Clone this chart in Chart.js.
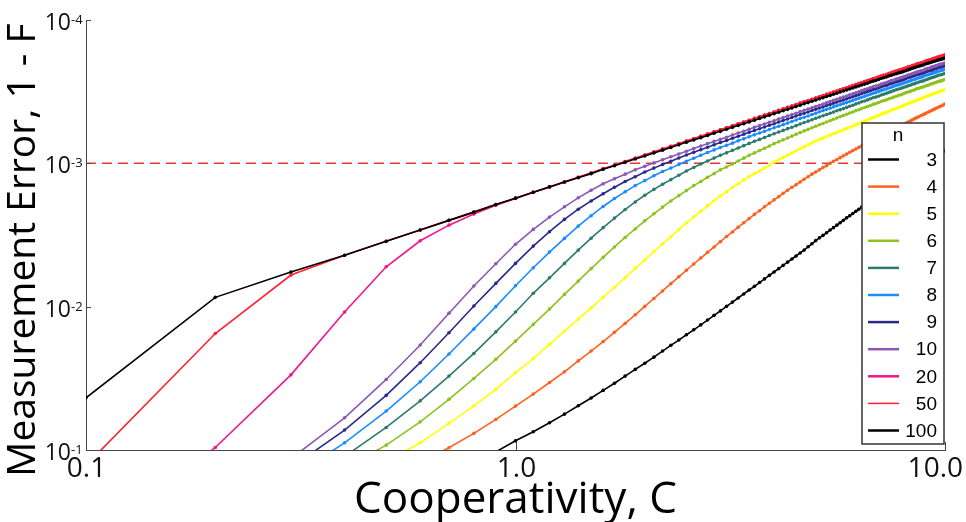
<!DOCTYPE html>
<html>
<head>
<meta charset="utf-8">
<title>Measurement error vs cooperativity</title>
<script src="https://cdn.jsdelivr.net/npm/chart.js@4.4.1/dist/chart.umd.min.js"></script>
<style>
  html, body { margin: 0; padding: 0; background: #fff; }
  #wrap { width: 966px; height: 522px; }
</style>
</head>
<body>
<div id="wrap"><canvas id="errChart" width="966" height="522"></canvas></div>
<script>
// cooperativity values (x), one point every 0.1
const coopC = [
  0.1, 0.2, 0.3, 0.4, 0.5, 0.6, 0.7, 0.8, 0.9, 1.0,
  1.1, 1.2, 1.3, 1.4, 1.5, 1.6, 1.7, 1.8, 1.9, 2.0,
  2.1, 2.2, 2.3, 2.4, 2.5, 2.6, 2.7, 2.8, 2.9, 3.0,
  3.1, 3.2, 3.3, 3.4, 3.5, 3.6, 3.7, 3.8, 3.9, 4.0,
  4.1, 4.2, 4.3, 4.4, 4.5, 4.6, 4.7, 4.8, 4.9, 5.0,
  5.1, 5.2, 5.3, 5.4, 5.5, 5.6, 5.7, 5.8, 5.9, 6.0,
  6.1, 6.2, 6.3, 6.4, 6.5, 6.6, 6.7, 6.8, 6.9, 7.0,
  7.1, 7.2, 7.3, 7.4, 7.5, 7.6, 7.7, 7.8, 7.9, 8.0,
  8.1, 8.2, 8.3, 8.4, 8.5, 8.6, 8.7, 8.8, 8.9, 9.0,
  9.1, 9.2, 9.3, 9.4, 9.5, 9.6, 9.7, 9.8, 9.9, 10.0
];

// measurement error 1 - F for each n (null = off the plotted range)
const errN3 = [
  null, null, null, null, null, null, null, null, 0.103, 0.0863,
  0.0746, 0.0646, 0.0562, 0.0491, 0.0434, 0.0384, 0.0342, 0.0305, 0.0274, 0.0248,
  0.0225, 0.0204, 0.0186, 0.0171, 0.0157, 0.0145, 0.0134, 0.0124, 0.0115, 0.0107,
  9.95e-3, 9.29e-3, 8.70e-3, 8.15e-3, 7.65e-3, 7.21e-3, 6.79e-3, 6.40e-3, 6.05e-3, 5.73e-3,
  5.43e-3, 5.15e-3, 4.89e-3, 4.65e-3, 4.43e-3, 4.22e-3, 4.03e-3, 3.82e-3, 3.64e-3, 3.46e-3,
  3.31e-3, 3.18e-3, 3.05e-3, 2.92e-3, 2.81e-3, 2.70e-3, 2.60e-3, 2.50e-3, 2.40e-3, 2.32e-3,
  2.24e-3, 2.16e-3, 2.09e-3, 2.02e-3, 1.95e-3, 1.89e-3, 1.84e-3, 1.78e-3, 1.73e-3, 1.67e-3,
  1.63e-3, 1.58e-3, 1.54e-3, 1.49e-3, 1.45e-3, 1.41e-3, 1.38e-3, 1.34e-3, 1.30e-3, 1.27e-3,
  1.24e-3, 1.21e-3, 1.18e-3, 1.15e-3, 1.12e-3, 1.10e-3, 1.07e-3, 1.05e-3, 1.02e-3, 1.00e-3,
  9.80e-4, 9.59e-4, 9.39e-4, 9.19e-4, 9.00e-4, 8.82e-4, 8.64e-4, 8.47e-4, 8.30e-4, 8.13e-4
];
const errN4 = [
  null, null, null, null, null, 0.122, 0.0965, 0.0766, 0.0612, 0.0494,
  0.0407, 0.0338, 0.0285, 0.0239, 0.0204, 0.0175, 0.0151, 0.0131, 0.0114, 9.95e-3,
  8.77e-3, 7.77e-3, 6.91e-3, 6.19e-3, 5.57e-3, 5.04e-3, 4.58e-3, 4.18e-3, 3.83e-3, 3.52e-3,
  3.24e-3, 3.01e-3, 2.79e-3, 2.60e-3, 2.43e-3, 2.27e-3, 2.14e-3, 2.01e-3, 1.90e-3, 1.80e-3,
  1.71e-3, 1.62e-3, 1.54e-3, 1.47e-3, 1.41e-3, 1.35e-3, 1.29e-3, 1.24e-3, 1.19e-3, 1.15e-3,
  1.11e-3, 1.07e-3, 1.04e-3, 1.00e-3, 9.69e-4, 9.41e-4, 9.13e-4, 8.87e-4, 8.62e-4, 8.37e-4,
  8.15e-4, 7.95e-4, 7.74e-4, 7.55e-4, 7.36e-4, 7.19e-4, 7.02e-4, 6.86e-4, 6.70e-4, 6.54e-4,
  6.40e-4, 6.27e-4, 6.14e-4, 6.01e-4, 5.89e-4, 5.77e-4, 5.66e-4, 5.55e-4, 5.45e-4, 5.34e-4,
  5.25e-4, 5.15e-4, 5.06e-4, 4.97e-4, 4.88e-4, 4.80e-4, 4.72e-4, 4.64e-4, 4.57e-4, 4.50e-4,
  4.42e-4, 4.35e-4, 4.28e-4, 4.22e-4, 4.15e-4, 4.09e-4, 4.03e-4, 3.98e-4, 3.92e-4, 3.86e-4
];
const errN5 = [
  null, null, null, null, 0.121, 0.0891, 0.0652, 0.0492, 0.0378, 0.0289,
  0.0230, 0.0183, 0.0148, 0.0122, 0.0102, 8.61e-3, 7.32e-3, 6.28e-3, 5.42e-3, 4.72e-3,
  4.14e-3, 3.65e-3, 3.25e-3, 2.90e-3, 2.61e-3, 2.37e-3, 2.16e-3, 1.98e-3, 1.82e-3, 1.69e-3,
  1.58e-3, 1.47e-3, 1.39e-3, 1.31e-3, 1.24e-3, 1.18e-3, 1.13e-3, 1.08e-3, 1.03e-3, 9.80e-4,
  9.44e-4, 9.10e-4, 8.77e-4, 8.46e-4, 8.17e-4, 7.90e-4, 7.65e-4, 7.43e-4, 7.20e-4, 6.98e-4,
  6.82e-4, 6.67e-4, 6.51e-4, 6.36e-4, 6.22e-4, 6.09e-4, 5.96e-4, 5.84e-4, 5.72e-4, 5.60e-4,
  5.49e-4, 5.37e-4, 5.28e-4, 5.17e-4, 5.07e-4, 4.98e-4, 4.89e-4, 4.80e-4, 4.72e-4, 4.64e-4,
  4.55e-4, 4.48e-4, 4.42e-4, 4.33e-4, 4.26e-4, 4.20e-4, 4.13e-4, 4.07e-4, 4.02e-4, 3.96e-4,
  3.89e-4, 3.83e-4, 3.79e-4, 3.73e-4, 3.68e-4, 3.62e-4, 3.58e-4, 3.54e-4, 3.49e-4, 3.43e-4,
  3.39e-4, 3.35e-4, 3.31e-4, 3.27e-4, 3.23e-4, 3.19e-4, 3.15e-4, 3.13e-4, 3.09e-4, 3.05e-4
];
const errN6 = [
  null, null, null, 0.134, 0.0924, 0.0636, 0.0443, 0.0317, 0.0233, 0.0174,
  0.0133, 0.0104, 8.21e-3, 6.63e-3, 5.43e-3, 4.53e-3, 3.83e-3, 3.29e-3, 2.87e-3, 2.52e-3,
  2.25e-3, 2.02e-3, 1.83e-3, 1.68e-3, 1.55e-3, 1.43e-3, 1.34e-3, 1.25e-3, 1.18e-3, 1.11e-3,
  1.06e-3, 1.01e-3, 9.63e-4, 9.20e-4, 8.79e-4, 8.46e-4, 8.14e-4, 7.85e-4, 7.57e-4, 7.29e-4,
  7.07e-4, 6.86e-4, 6.65e-4, 6.46e-4, 6.27e-4, 6.09e-4, 5.94e-4, 5.80e-4, 5.64e-4, 5.51e-4,
  5.38e-4, 5.27e-4, 5.15e-4, 5.04e-4, 4.93e-4, 4.83e-4, 4.73e-4, 4.64e-4, 4.55e-4, 4.46e-4,
  4.38e-4, 4.30e-4, 4.23e-4, 4.15e-4, 4.08e-4, 4.01e-4, 3.95e-4, 3.88e-4, 3.83e-4, 3.77e-4,
  3.70e-4, 3.65e-4, 3.61e-4, 3.54e-4, 3.50e-4, 3.45e-4, 3.40e-4, 3.35e-4, 3.32e-4, 3.27e-4,
  3.22e-4, 3.18e-4, 3.15e-4, 3.10e-4, 3.07e-4, 3.02e-4, 2.99e-4, 2.96e-4, 2.93e-4, 2.89e-4,
  2.86e-4, 2.83e-4, 2.79e-4, 2.76e-4, 2.73e-4, 2.70e-4, 2.67e-4, 2.66e-4, 2.62e-4, 2.60e-4
];
const errN7 = [
  null, null, null, 0.111, 0.0696, 0.0454, 0.0305, 0.0212, 0.0150, 0.0109,
  8.07e-3, 6.29e-3, 4.99e-3, 4.03e-3, 3.33e-3, 2.81e-3, 2.41e-3, 2.10e-3, 1.86e-3, 1.67e-3,
  1.52e-3, 1.40e-3, 1.30e-3, 1.21e-3, 1.13e-3, 1.07e-3, 1.01e-3, 9.64e-4, 9.19e-4, 8.79e-4,
  8.45e-4, 8.12e-4, 7.81e-4, 7.53e-4, 7.26e-4, 7.02e-4, 6.81e-4, 6.60e-4, 6.40e-4, 6.21e-4,
  6.05e-4, 5.89e-4, 5.73e-4, 5.60e-4, 5.46e-4, 5.32e-4, 5.19e-4, 5.08e-4, 4.96e-4, 4.85e-4,
  4.75e-4, 4.66e-4, 4.56e-4, 4.47e-4, 4.39e-4, 4.30e-4, 4.22e-4, 4.15e-4, 4.07e-4, 4.00e-4,
  3.93e-4, 3.85e-4, 3.79e-4, 3.72e-4, 3.67e-4, 3.61e-4, 3.55e-4, 3.49e-4, 3.45e-4, 3.40e-4,
  3.34e-4, 3.30e-4, 3.25e-4, 3.20e-4, 3.16e-4, 3.11e-4, 3.07e-4, 3.03e-4, 3.00e-4, 2.96e-4,
  2.92e-4, 2.88e-4, 2.85e-4, 2.81e-4, 2.78e-4, 2.74e-4, 2.71e-4, 2.68e-4, 2.66e-4, 2.62e-4,
  2.59e-4, 2.56e-4, 2.53e-4, 2.51e-4, 2.48e-4, 2.45e-4, 2.42e-4, 2.41e-4, 2.38e-4, 2.36e-4
];
const errN8 = [
  null, null, 0.156, 0.0891, 0.0535, 0.0334, 0.0214, 0.0143, 0.0100, 7.15e-3,
  5.35e-3, 4.16e-3, 3.34e-3, 2.74e-3, 2.32e-3, 2.00e-3, 1.76e-3, 1.58e-3, 1.43e-3, 1.32e-3,
  1.22e-3, 1.14e-3, 1.08e-3, 1.02e-3, 9.66e-4, 9.21e-4, 8.78e-4, 8.41e-4, 8.06e-4, 7.75e-4,
  7.49e-4, 7.23e-4, 6.97e-4, 6.75e-4, 6.53e-4, 6.33e-4, 6.15e-4, 5.98e-4, 5.81e-4, 5.65e-4,
  5.51e-4, 5.37e-4, 5.24e-4, 5.11e-4, 4.99e-4, 4.87e-4, 4.77e-4, 4.67e-4, 4.56e-4, 4.47e-4,
  4.37e-4, 4.29e-4, 4.20e-4, 4.12e-4, 4.04e-4, 3.97e-4, 3.90e-4, 3.83e-4, 3.77e-4, 3.70e-4,
  3.64e-4, 3.57e-4, 3.52e-4, 3.46e-4, 3.41e-4, 3.35e-4, 3.30e-4, 3.25e-4, 3.21e-4, 3.16e-4,
  3.11e-4, 3.07e-4, 3.03e-4, 2.98e-4, 2.94e-4, 2.90e-4, 2.86e-4, 2.83e-4, 2.80e-4, 2.76e-4,
  2.73e-4, 2.69e-4, 2.66e-4, 2.62e-4, 2.60e-4, 2.56e-4, 2.53e-4, 2.51e-4, 2.48e-4, 2.44e-4,
  2.42e-4, 2.39e-4, 2.37e-4, 2.34e-4, 2.32e-4, 2.29e-4, 2.27e-4, 2.25e-4, 2.23e-4, 2.20e-4
];
const errN9 = [
  null, null, 0.133, 0.0726, 0.0416, 0.0246, 0.0152, 9.90e-3, 6.88e-3, 4.99e-3,
  3.78e-3, 3.00e-3, 2.46e-3, 2.09e-3, 1.83e-3, 1.63e-3, 1.47e-3, 1.34e-3, 1.24e-3, 1.15e-3,
  1.08e-3, 1.02e-3, 9.67e-4, 9.18e-4, 8.75e-4, 8.38e-4, 8.04e-4, 7.73e-4, 7.43e-4, 7.15e-4,
  6.92e-4, 6.68e-4, 6.47e-4, 6.27e-4, 6.08e-4, 5.90e-4, 5.74e-4, 5.58e-4, 5.43e-4, 5.29e-4,
  5.15e-4, 5.03e-4, 4.90e-4, 4.79e-4, 4.68e-4, 4.57e-4, 4.47e-4, 4.38e-4, 4.28e-4, 4.20e-4,
  4.11e-4, 4.04e-4, 3.95e-4, 3.88e-4, 3.81e-4, 3.74e-4, 3.67e-4, 3.61e-4, 3.55e-4, 3.49e-4,
  3.43e-4, 3.37e-4, 3.32e-4, 3.26e-4, 3.21e-4, 3.16e-4, 3.11e-4, 3.06e-4, 3.03e-4, 2.98e-4,
  2.93e-4, 2.89e-4, 2.86e-4, 2.81e-4, 2.77e-4, 2.74e-4, 2.70e-4, 2.67e-4, 2.64e-4, 2.61e-4,
  2.57e-4, 2.53e-4, 2.51e-4, 2.47e-4, 2.45e-4, 2.41e-4, 2.39e-4, 2.37e-4, 2.34e-4, 2.31e-4,
  2.28e-4, 2.26e-4, 2.24e-4, 2.21e-4, 2.19e-4, 2.16e-4, 2.14e-4, 2.13e-4, 2.10e-4, 2.08e-4
];
const errN10 = [
  null, null, 0.115, 0.0596, 0.0322, 0.0185, 0.0111, 7.18e-3, 5.02e-3, 3.67e-3,
  2.89e-3, 2.37e-3, 2.01e-3, 1.74e-3, 1.54e-3, 1.39e-3, 1.28e-3, 1.19e-3, 1.11e-3, 1.05e-3,
  9.93e-4, 9.43e-4, 9.00e-4, 8.60e-4, 8.23e-4, 7.89e-4, 7.58e-4, 7.29e-4, 7.03e-4, 6.79e-4,
  6.57e-4, 6.35e-4, 6.15e-4, 5.97e-4, 5.78e-4, 5.61e-4, 5.45e-4, 5.31e-4, 5.17e-4, 5.04e-4,
  4.91e-4, 4.79e-4, 4.68e-4, 4.57e-4, 4.47e-4, 4.36e-4, 4.27e-4, 4.18e-4, 4.09e-4, 4.01e-4,
  3.93e-4, 3.86e-4, 3.78e-4, 3.71e-4, 3.64e-4, 3.57e-4, 3.51e-4, 3.45e-4, 3.39e-4, 3.33e-4,
  3.27e-4, 3.22e-4, 3.17e-4, 3.11e-4, 3.06e-4, 3.02e-4, 2.97e-4, 2.92e-4, 2.89e-4, 2.85e-4,
  2.80e-4, 2.77e-4, 2.73e-4, 2.69e-4, 2.65e-4, 2.62e-4, 2.58e-4, 2.55e-4, 2.52e-4, 2.49e-4,
  2.46e-4, 2.42e-4, 2.40e-4, 2.36e-4, 2.34e-4, 2.31e-4, 2.28e-4, 2.26e-4, 2.24e-4, 2.20e-4,
  2.18e-4, 2.16e-4, 2.13e-4, 2.11e-4, 2.09e-4, 2.07e-4, 2.04e-4, 2.03e-4, 2.01e-4, 1.99e-4
];
const errN20 = [
  0.5, 0.096, 0.0299, 0.0109, 5.27e-3, 3.47e-3, 2.70e-3, 2.26e-3, 1.96e-3, 1.76e-3,
  1.59e-3, 1.46e-3, 1.35e-3, 1.25e-3, 1.17e-3, 1.09e-3, 1.03e-3, 9.72e-4, 9.21e-4, 8.75e-4,
  8.33e-4, 7.95e-4, 7.61e-4, 7.29e-4, 7.00e-4, 6.73e-4, 6.48e-4, 6.25e-4, 6.03e-4, 5.83e-4,
  5.65e-4, 5.47e-4, 5.30e-4, 5.15e-4, 5.00e-4, 4.86e-4, 4.73e-4, 4.61e-4, 4.49e-4, 4.38e-4,
  4.27e-4, 4.17e-4, 4.07e-4, 3.98e-4, 3.89e-4, 3.80e-4, 3.72e-4, 3.65e-4, 3.57e-4, 3.50e-4,
  3.43e-4, 3.37e-4, 3.30e-4, 3.24e-4, 3.18e-4, 3.13e-4, 3.07e-4, 3.02e-4, 2.97e-4, 2.92e-4,
  2.87e-4, 2.82e-4, 2.78e-4, 2.73e-4, 2.69e-4, 2.65e-4, 2.61e-4, 2.57e-4, 2.54e-4, 2.50e-4,
  2.46e-4, 2.43e-4, 2.40e-4, 2.36e-4, 2.33e-4, 2.30e-4, 2.27e-4, 2.24e-4, 2.22e-4, 2.19e-4,
  2.16e-4, 2.13e-4, 2.11e-4, 2.08e-4, 2.06e-4, 2.03e-4, 2.01e-4, 1.99e-4, 1.97e-4, 1.94e-4,
  1.92e-4, 1.90e-4, 1.88e-4, 1.86e-4, 1.84e-4, 1.82e-4, 1.80e-4, 1.79e-4, 1.77e-4, 1.75e-4
];
const errN50 = [
  0.128, 0.0154, 6.02e-3, 4.38e-3, 3.50e-3, 2.92e-3, 2.50e-3, 2.19e-3, 1.94e-3, 1.75e-3,
  1.59e-3, 1.46e-3, 1.35e-3, 1.25e-3, 1.17e-3, 1.09e-3, 1.03e-3, 9.72e-4, 9.21e-4, 8.75e-4,
  8.33e-4, 7.95e-4, 7.61e-4, 7.29e-4, 7.00e-4, 6.73e-4, 6.48e-4, 6.25e-4, 6.03e-4, 5.83e-4,
  5.65e-4, 5.47e-4, 5.30e-4, 5.15e-4, 5.00e-4, 4.86e-4, 4.73e-4, 4.61e-4, 4.49e-4, 4.38e-4,
  4.27e-4, 4.17e-4, 4.07e-4, 3.98e-4, 3.89e-4, 3.80e-4, 3.72e-4, 3.65e-4, 3.57e-4, 3.50e-4,
  3.43e-4, 3.37e-4, 3.30e-4, 3.24e-4, 3.18e-4, 3.13e-4, 3.07e-4, 3.02e-4, 2.97e-4, 2.92e-4,
  2.87e-4, 2.82e-4, 2.78e-4, 2.73e-4, 2.69e-4, 2.65e-4, 2.61e-4, 2.57e-4, 2.54e-4, 2.50e-4,
  2.46e-4, 2.43e-4, 2.40e-4, 2.36e-4, 2.33e-4, 2.30e-4, 2.27e-4, 2.24e-4, 2.22e-4, 2.19e-4,
  2.16e-4, 2.13e-4, 2.11e-4, 2.08e-4, 2.06e-4, 2.03e-4, 2.01e-4, 1.99e-4, 1.97e-4, 1.94e-4,
  1.92e-4, 1.90e-4, 1.88e-4, 1.86e-4, 1.84e-4, 1.82e-4, 1.80e-4, 1.79e-4, 1.77e-4, 1.75e-4
];
const errN100 = [
  0.0432, 8.61e-3, 5.73e-3, 4.38e-3, 3.50e-3, 2.92e-3, 2.50e-3, 2.19e-3, 1.94e-3, 1.75e-3,
  1.59e-3, 1.46e-3, 1.35e-3, 1.26e-3, 1.18e-3, 1.10e-3, 1.04e-3, 9.84e-4, 9.33e-4, 8.88e-4,
  8.46e-4, 8.09e-4, 7.75e-4, 7.43e-4, 7.14e-4, 6.87e-4, 6.62e-4, 6.39e-4, 6.17e-4, 5.98e-4,
  5.79e-4, 5.61e-4, 5.44e-4, 5.29e-4, 5.14e-4, 5.00e-4, 4.86e-4, 4.74e-4, 4.62e-4, 4.51e-4,
  4.40e-4, 4.30e-4, 4.20e-4, 4.11e-4, 4.02e-4, 3.93e-4, 3.84e-4, 3.77e-4, 3.69e-4, 3.62e-4,
  3.55e-4, 3.49e-4, 3.42e-4, 3.36e-4, 3.30e-4, 3.24e-4, 3.18e-4, 3.13e-4, 3.08e-4, 3.03e-4,
  2.98e-4, 2.93e-4, 2.89e-4, 2.84e-4, 2.80e-4, 2.76e-4, 2.71e-4, 2.67e-4, 2.64e-4, 2.60e-4,
  2.56e-4, 2.53e-4, 2.50e-4, 2.46e-4, 2.43e-4, 2.40e-4, 2.37e-4, 2.34e-4, 2.32e-4, 2.29e-4,
  2.26e-4, 2.23e-4, 2.20e-4, 2.17e-4, 2.15e-4, 2.12e-4, 2.10e-4, 2.08e-4, 2.06e-4, 2.03e-4,
  2.01e-4, 1.99e-4, 1.97e-4, 1.95e-4, 1.93e-4, 1.91e-4, 1.89e-4, 1.88e-4, 1.86e-4, 1.84e-4
];

const seriesN = ['3', '4', '5', '6', '7', '8', '9', '10', '20', '50', '100'];
const seriesErr = [errN3, errN4, errN5, errN6, errN7, errN8, errN9, errN10, errN20, errN50, errN100];
const seriesColors = ['#000000', '#ff6020', '#ffff00', '#8dc21f', '#2c7b6c', '#1a8cff',
                      '#2b2a8c', '#8c58b4', '#f0168c', '#ff2030', '#000000'];

const threshold = 1e-3;          // dashed red line
const yTicks = [1e-4, 1e-3, 1e-2, 1e-1];
const yTickExp = ['-4', '-3', '-2', '-1'];
const xTicks = [0.1, 1, 10];
const xTickLabels = ['0.1', '1.0', '10.0'];

const FONT = '"Open Sans", "DejaVu Sans", sans-serif';

const datasets = seriesErr.map((err, i) => ({
    label: seriesN[i],
    data: err.map((v, k) => ({ x: coopC[k], y: v })),
    borderColor: seriesColors[i],
    backgroundColor: seriesColors[i],
    borderWidth: 1.6,
    pointRadius: 1.8,
    pointBorderWidth: 0,
    pointBackgroundColor: seriesColors[i],
    tension: 0,
    spanGaps: false,
    order: seriesN.length - i   // n = 100 drawn last
}));

datasets.push({
    label: 'threshold',
    data: [{ x: 0.1, y: threshold }, { x: 10, y: threshold }],
    borderColor: '#e8382e',
    borderWidth: 1.5,
    borderDash: [10, 6],
    pointRadius: 0,
    order: 50
});

// ticks, tick labels and axis titles
const axisDecor = {
    id: 'axisDecor',
    afterDraw(chart) {
        const { ctx, chartArea, scales: { x, y } } = chart;
        ctx.save();
        ctx.strokeStyle = '#444';
        ctx.lineWidth = 1;
        ctx.fillStyle = '#111';

        yTicks.forEach((v, i) => {
            const py = Math.round(y.getPixelForValue(v)) + 0.5;
            ctx.beginPath();
            ctx.moveTo(chartArea.left, py);
            ctx.lineTo(chartArea.left + 5, py);
            ctx.stroke();
            ctx.textBaseline = 'alphabetic';
            ctx.font = '23px ' + FONT;
            ctx.textAlign = 'right';
            ctx.fillText('10', 71, py + 9);
            ctx.font = '13px ' + FONT;
            ctx.textAlign = 'left';
            ctx.fillText(yTickExp[i], 71, py + 3);
        });

        ctx.font = '28px ' + FONT;
        ctx.textAlign = 'center';
        xTicks.forEach((v, i) => {
            const px = Math.round(x.getPixelForValue(v)) + 0.5;
            ctx.beginPath();
            ctx.moveTo(px, chartArea.bottom);
            ctx.lineTo(px, chartArea.bottom - 8);
            ctx.stroke();
            const w = ctx.measureText(xTickLabels[i]).width;
            ctx.fillText(xTickLabels[i], Math.min(px, 963 - w / 2), 477);
        });

        ctx.fillStyle = '#000';
        ctx.font = '44px ' + FONT;
        ctx.fillText('Cooperativity, C', (chartArea.left + chartArea.right) / 2, 513);

        ctx.translate(35, 250);
        ctx.rotate(-Math.PI / 2);
        ctx.font = '39px ' + FONT;
        ctx.fillText('Measurement Error, 1 - F', 0, 0);
        ctx.restore();
    }
};

// boxed legend inside the plot, right side
const legendBox = {
    id: 'legendBox',
    afterDraw(chart) {
        const ctx = chart.ctx;
        const left = 862, top = 123, w = 82, h = 321;
        ctx.save();
        ctx.fillStyle = '#fff';
        ctx.fillRect(left, top, w, h);
        ctx.strokeStyle = '#333';
        ctx.lineWidth = 1.5;
        ctx.strokeRect(left, top, w, h);

        ctx.fillStyle = '#000';
        ctx.font = '19px "Liberation Sans", Arial, sans-serif';
        ctx.textBaseline = 'middle';
        ctx.textAlign = 'center';
        ctx.fillText('n', 898, 136);

        seriesN.forEach((n, i) => {
            const yy = 159.5 + i * 27.1;
            ctx.strokeStyle = seriesColors[i];
            ctx.lineWidth = n === '50' ? 1.5 : 2.5;
            ctx.beginPath();
            ctx.moveTo(868, yy);
            ctx.lineTo(899, yy);
            ctx.stroke();
            ctx.textAlign = 'right';
            ctx.fillText(n, 937, yy + 1);
        });
        ctx.restore();
    }
};

new Chart(document.getElementById('errChart'), {
    type: 'line',
    data: { datasets: datasets },
    options: {
        responsive: false,
        animation: false,
        events: [],
        layout: { padding: { top: 20, right: 21, left: 0, bottom: 0 } },
        plugins: {
            legend: { display: false },
            tooltip: { enabled: false }
        },
        scales: {
            x: {
                type: 'logarithmic',
                min: 0.1,
                max: 10,
                grid: { display: false },
                border: { display: true, color: '#444', width: 1 },
                ticks: { display: false },
                afterFit: function (scale) { scale.height = 72; }
            },
            y: {
                type: 'logarithmic',
                reverse: true,
                min: 1e-4,
                max: 1e-1,
                grid: { display: false },
                border: { display: true, color: '#444', width: 1 },
                ticks: { display: false },
                afterFit: function (scale) { scale.width = 86; }
            }
        }
    },
    plugins: [axisDecor, legendBox]
});
</script>
</body>
</html>
